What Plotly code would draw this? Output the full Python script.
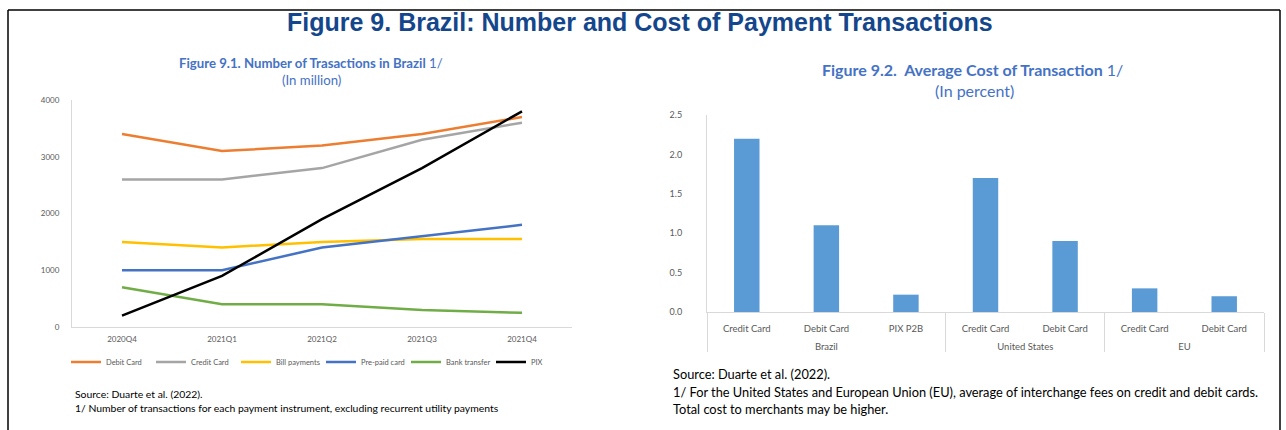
import plotly.graph_objects as go

# Figure 9.1 data (in million)
quarters = ["2020Q4", "2021Q1", "2021Q2", "2021Q3", "2021Q4"]
debit_card = [3400, 3100, 3200, 3400, 3700]
credit_card = [2600, 2600, 2800, 3300, 3600]
bill_payments = [1500, 1400, 1500, 1550, 1550]
prepaid_card = [1000, 1000, 1400, 1600, 1800]
bank_transfer = [700, 400, 400, 300, 250]
pix = [200, 900, 1900, 2800, 3800]

# Figure 9.2 data (in percent)
regions = ["Brazil", "Brazil", "Brazil", "United States", "United States", "EU", "EU"]
instruments = ["Credit Card", "Debit Card", "PIX P2B", "Credit Card", "Debit Card", "Credit Card", "Debit Card"]
avg_cost = [2.2, 1.1, 0.22, 1.7, 0.9, 0.3, 0.2]

W, H = 1286, 430
def px(x):
    return x / W
def py(y):
    return 1 - y / H

fig = go.Figure()

series = [
    ("Debit Card", debit_card, "#ED7D31"),
    ("Credit Card", credit_card, "#A5A5A5"),
    ("Bill payments", bill_payments, "#FFC000"),
    ("Pre-paid card", prepaid_card, "#4472C4"),
    ("Bank transfer", bank_transfer, "#70AD47"),
    ("PIX", pix, "#000000"),
]
for name, vals, col in series:
    fig.add_trace(go.Scatter(x=quarters, y=vals, mode="lines", name=name,
                             line=dict(color=col, width=2.5), xaxis="x", yaxis="y"))

# group labels pushed down one line, like the excel two-level axis
group_labels = ["<br>" + r for r in regions]
fig.add_trace(go.Bar(x=[group_labels, instruments], y=avg_cost, marker=dict(color="#5B9BD5", line=dict(width=0)),
                     width=0.32, showlegend=False, xaxis="x2", yaxis="y2"))

axis_grey = "#D9D9D9"
tick_grey = "#595959"

fig.update_layout(
    width=W, height=H,
    margin=dict(l=0, r=0, t=0, b=0, autoexpand=False),
    paper_bgcolor="white", plot_bgcolor="white",
    font=dict(family="Lato", color=tick_grey),
    xaxis=dict(domain=[px(72), px(572)], range=[-0.5, 4.5], showline=True, linecolor=axis_grey,
               ticks="", ticklabelstandoff=4, tickfont=dict(size=8, color=tick_grey),
               showgrid=False, zeroline=False, anchor="y"),
    yaxis=dict(domain=[py(327), py(100)], range=[0, 4000], dtick=1000, showline=True, linecolor=axis_grey,
               ticks="", ticklabelstandoff=10, tickfont=dict(size=8, color=tick_grey),
               showgrid=False, zeroline=False, anchor="x"),
    xaxis2=dict(domain=[px(707), px(1264)], type="multicategory", showline=True, linecolor=axis_grey,
                showdividers=True, dividercolor=axis_grey, dividerwidth=1, ticklabelstandoff=8,
                tickfont=dict(size=9.5, color=tick_grey), showgrid=False, zeroline=False, anchor="y2"),
    yaxis2=dict(domain=[py(312), py(115)], range=[0, 2.5], dtick=0.5, tickformat=".1f", showline=True,
                linecolor=axis_grey, ticks="", ticklabelstandoff=22,
                tickfont=dict(size=9, color=tick_grey), showgrid=False, zeroline=False, anchor="x2"),
    legend=dict(orientation="h", x=px(66), y=py(362), xanchor="left", yanchor="middle",
                font=dict(size=7.5, color=tick_grey), itemwidth=30, entrywidth=40,
                bgcolor="rgba(0,0,0,0)"),
    showlegend=True,
)

# frame around the figure
frame = dict(type="line", xref="paper", yref="paper", line=dict(color="black", width=1.5))
fig.add_shape(x0=px(8), x1=px(1280), y0=py(10), y1=py(10), **frame)
fig.add_shape(x0=px(8), x1=px(8), y0=py(10), y1=0, **frame)
fig.add_shape(x0=px(1280), x1=px(1280), y0=py(10), y1=0, **frame)

title_blue = "#14468C"
sub_blue = "#4472C4"
annos = [
    dict(x=px(640), y=py(22), text="<b>Figure 9. Brazil: Number and Cost of Payment Transactions</b>",
         font=dict(family="Liberation Sans", size=25, color=title_blue)),
    dict(x=px(311), y=py(63), text="<b>Figure 9.1. Number of Trasactions in Brazil</b> 1/",
         font=dict(family="Lato", size=13.2, color=sub_blue)),
    dict(x=px(311), y=py(80), text="(In million)",
         font=dict(family="Lato", size=13.2, color=sub_blue)),
    dict(x=px(973), y=py(69), text="<b>Figure 9.2.  Average Cost of Transaction</b> 1/",
         font=dict(family="Lato", size=16, color=sub_blue)),
    dict(x=px(974), y=py(91), text="(In percent)",
         font=dict(family="Lato", size=16, color=sub_blue)),
]
for a in annos:
    fig.add_annotation(xref="paper", yref="paper", showarrow=False, xanchor="center", yanchor="middle", **a)

notes = [
    (px(73), py(394), "Source: Duarte et al. (2022).", 10.4),
    (px(73), py(408), "1/ Number of transactions for each payment instrument, excluding recurrent utility payments", 10.4),
    (px(671), py(374), "Source: Duarte et al. (2022).", 12.8),
    (px(671), py(392), "1/ For the United States and European Union (EU), average of interchange fees on credit and debit cards.", 12.8),
    (px(671), py(409), "Total cost to merchants may be higher.", 12.8),
]
for x, y, t, s in notes:
    fig.add_annotation(xref="paper", yref="paper", x=x, y=y, text=t, showarrow=False,
                       xanchor="left", yanchor="middle", font=dict(family="Lato", size=s, color="#000000"))

fig.write_html("out.html", config={"displayModeBar": False},
               post_script="document.body.style.margin='0';")
